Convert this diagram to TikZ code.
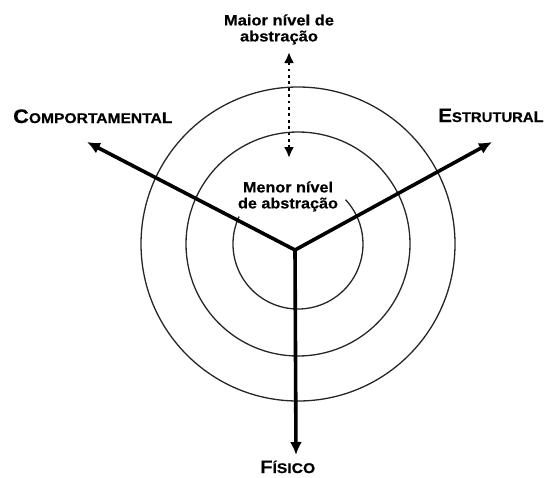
\documentclass[tikz,border=0pt]{standalone}
\usepackage{fontspec}
\setmainfont{Liberation Sans}[BoldFeatures={FakeBold=0.4}]
\usetikzlibrary{arrows.meta,calc}
\tikzset{
  ring/.style={draw=black!85, line width=1.3pt},
  arm/.style={draw=black, line width=3.6pt, -{Latex[length=13pt,width=12pt]}},
  dots/.style={draw=black, line width=2.8pt, dash pattern=on 2.8pt off 3.6pt, {Latex[length=11pt,width=10pt]}-{Latex[length=11pt,width=10pt]}},
  lbl/.style={font=\bfseries, inner sep=0pt, anchor=base west},
  txt/.style={font=\bfseries\fontsize{15}{17}\selectfont, inner sep=0pt}
}
\newcommand{\bigc}[1]{{\fontsize{19.5}{18}\selectfont #1}}
\newcommand{\midc}[1]{{\fontsize{15.5}{18}\selectfont #1}}
\newcommand{\smc}[1]{{\fontsize{14}{18}\selectfont #1}}
\newcommand{\twoline}[3]{\scalebox{#1}[1]{\begin{tabular}{@{}c@{}}#2\\[-1pt]#3\end{tabular}}}
\begin{document}
\begin{tikzpicture}[x=1pt,y=-1pt]
\useasboundingbox (0,0) rectangle (548,477);
\coordinate (c) at (298,244);
% rings
\draw[ring] (c) circle (157);
\draw[ring] (c) circle (112);
\draw[ring] ($(c)+(205:65)$) arc[start angle=205, end angle=-43, radius=65];
% text inner
\node[txt] (menor) at (288,197) {\twoline{1.08}{Menor nível}{de abstração}};
% arms
\coordinate (o) at (295,250);
\coordinate (tl) at (87,142);
\coordinate (tr) at (492,142);
\coordinate (tb) at (296,455);
\draw[arm] (o) -- (tl);
\draw[arm] (o) -- (tr);
\draw[arm] (o) -- (tb);
% top text
\node[txt] (maior) at (279,30) {\twoline{1.1}{Maior nível de}{abstração}};
\coordinate (dtop) at (289,52);
\coordinate (dbot) at (289,158);
\draw[dots] (dbot) -- (dtop);
% labels
\node[lbl] (comp) at (13,123) {\scalebox{1.115}[1]{\bigc{C}\smc{OMPORTAMENTA}\midc{L}}};
\node[lbl] (estr) at (438,122) {\scalebox{1.06}[1]{\bigc{E}\smc{STRUTURA}\midc{L}}};
\node[lbl] (fis) at (260,473) {\scalebox{1.12}[1]{{\fontsize{18}{18}\selectfont F}\smc{ÍSICO}}};
\end{tikzpicture}
\end{document}
